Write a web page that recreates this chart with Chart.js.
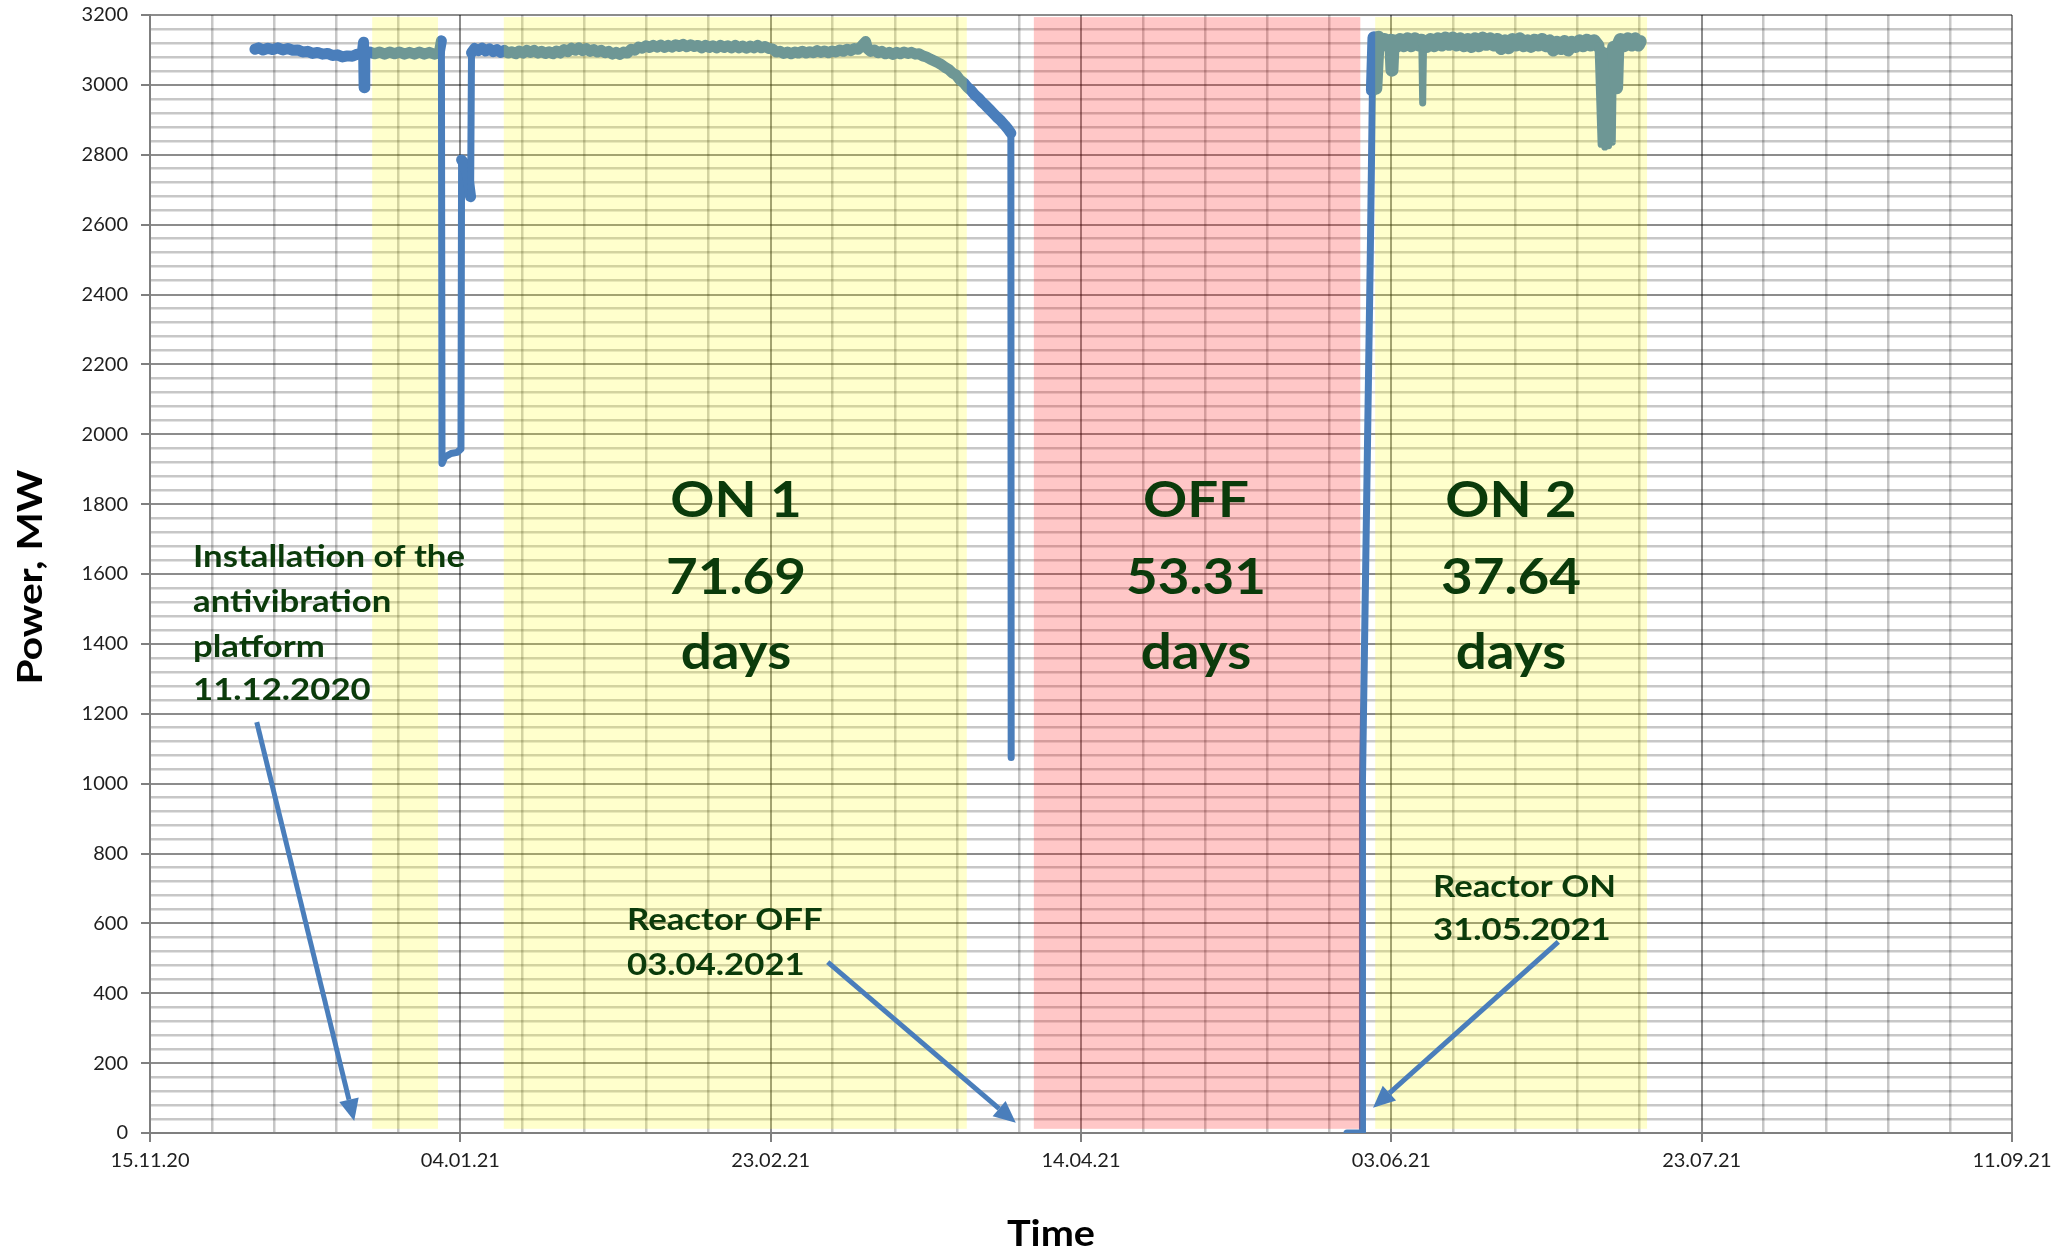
<!DOCTYPE html>
<html>
<head>
<meta charset="utf-8">
<script src="https://cdn.jsdelivr.net/npm/chart.js@4.4.1/dist/chart.umd.min.js"></script>
<style>
  html, body { margin: 0; padding: 0; background: #fff; }
  canvas { display: block; }
</style>
</head>
<body>
<canvas id="chart" width="2067" height="1250"></canvas>
<script>
// x = days since 15.11.2020, one label every 50 days
const dateLabels = ['15.11.20', '04.01.21', '23.02.21', '14.04.21', '03.06.21', '23.07.21', '11.09.21'];

// reactor power (null = no data)
const days = [
  16.9, 17.5, 18.2, 19.0, 19.8, 20.6, 21.4, 22.2, 23.0, 23.8, 24.6, 25.4, 26.2, 27.0, 27.8, 28.6, 29.4, 30.2, 31.0, 31.8,
  32.6, 33.4, 34.2, 34.4, 34.5, 34.6, 35.4, 36.2, 37.0, 37.8, 38.6, 39.4, 40.2, 41.0, 41.8, 42.6, 43.4, 44.2, 45.0, 45.8,
  46.6, 46.95, 47.05, 47.5, 48.5, 49.5, 50.1, 50.2, 50.5, 51.2, 51.5, 51.65, 51.8,
  52.3, 52.9, 53.5, 54.1, 54.7, 55.3, 55.9, 56.5, 57.1, 57.7, 58.3, 58.9, 59.5, 60.1, 60.7, 61.3, 61.9, 62.5, 63.1, 63.7,
  64.3, 64.9, 65.5, 66.1, 66.7, 67.3, 67.9, 68.5, 69.1, 69.7, 70.3, 70.9, 71.5, 72.1, 72.7, 73.3, 73.9, 74.5, 75.1, 75.7,
  76.3, 76.9, 77.5, 78.1, 78.7, 79.3, 79.9, 80.5, 81.1, 81.7, 82.3, 82.9, 83.5, 84.1, 84.7, 85.3, 85.9, 86.5, 87.1, 87.7,
  88.3, 88.9, 89.5, 90.1, 90.7, 91.3, 91.9, 92.5, 93.1, 93.7, 94.3, 94.9, 95.5, 96.1, 96.7, 97.3, 97.9, 98.5, 99.1, 99.7,
  100.3, 100.9, 101.5, 102.1, 102.7, 103.3, 103.9, 104.5, 105.1, 105.7, 106.3, 106.9, 107.5, 108.1, 108.7, 109.3, 109.9,
  110.5, 111.1, 111.7, 112.3, 112.9, 113.5, 114.1, 114.7, 115.3, 115.6, 116.1, 116.7, 117.3, 117.9, 118.5, 119.1, 119.7,
  120.3, 120.9, 121.5, 122.1, 122.7, 123.3, 123.9, 124.5, 125.1, 125.7, 126.3, 126.9, 127.5, 128.1, 128.7, 129.3, 129.9,
  130.5, 131.1, 131.7, 132.3, 132.9, 133.5, 134.1, 134.7, 135.3, 135.9, 136.5, 137.1, 137.7, 138.3, 138.7, 138.75,
  160,
  192.85, 195.3, 195.35, 195.6, 196.6, 196.95, 197.2, 197.5, 197.9, 198.4, 198.9, 199.4, 199.9, 200.1, 200.3, 200.8, 201.4, 202.0,
  202.6, 203.2, 203.8, 204.4, 204.9, 205.05, 205.2, 205.7, 206.3, 206.9, 207.5, 208.1, 208.7, 209.3, 209.9, 210.5, 211.1,
  211.7, 212.3, 212.9, 213.5, 214.1, 214.7, 215.3, 215.9, 216.5, 217.1, 217.7, 218.3, 218.9, 219.5, 220.1, 220.7, 221.3,
  221.9, 222.5, 223.1, 223.7, 224.3, 224.9, 225.5, 226.1, 226.7, 227.3, 227.9, 228.5, 229.1, 229.7, 230.3, 230.9, 231.5,
  232.1, 232.7, 233.3, 233.8, 234.1, 234.4, 234.7, 235.0, 235.3, 235.6, 235.8, 236.3, 236.5, 236.9, 237.5, 238.1, 238.7,
  239.3, 239.8, 240.1
];
const powerMW = [
  3102, 3106, 3100, 3105, 3101, 3106, 3100, 3104, 3099, 3100, 3094, 3096, 3090, 3093, 3088, 3090, 3084, 3086, 3080, 3083,
  3082, 3088, 3090, 3122, 2992, 3090, 3094, 3089, 3094, 3088, 3094, 3089, 3094, 3088, 3093, 3088, 3094, 3088, 3093, 3088,
  3092, 3126, 1916, 1935, 1945, 1948, 1958, 2785, 2778, 2740, 2700, 2680, 3092,
  3104, 3098, 3105, 3097, 3103, 3095, 3101, 3093, 3099, 3091, 3095, 3089, 3097, 3091, 3099, 3093, 3099, 3091, 3096, 3090,
  3095, 3089, 3097, 3091, 3101, 3095, 3105, 3099, 3106, 3098, 3104, 3096, 3101, 3094, 3099, 3092, 3096, 3088, 3093, 3087,
  3094, 3091, 3102, 3099, 3108, 3105, 3112, 3107, 3113, 3108, 3114, 3107, 3113, 3108, 3115, 3110, 3116, 3109, 3115, 3110,
  3113, 3106, 3113, 3107, 3112, 3106, 3113, 3107, 3112, 3106, 3113, 3106, 3111, 3105, 3111, 3106, 3113, 3106, 3110, 3104,
  3103, 3094, 3096, 3090, 3094, 3089, 3094, 3091, 3096, 3091, 3095, 3092, 3098, 3093, 3097, 3092, 3097,
  3094, 3100, 3096, 3102, 3098, 3104, 3102, 3112, 3124, 3104, 3096, 3100, 3092, 3096, 3089, 3093, 3087,
  3093, 3089, 3094, 3090, 3093, 3088, 3089, 3083, 3080, 3074, 3069, 3064, 3058, 3050, 3044, 3034, 3028,
  3014, 3006, 2993, 2984, 2971, 2962, 2950, 2940, 2929, 2918, 2907, 2897, 2885, 2872, 2862, 1075,
  null,
  0, 0, 1010, 1300, 2500, 2985, 3135, 2990, 3136, 3114, 3130, 3112, 3128, 3042, 3126, 3110, 3130, 3112,
  3132, 3112, 3132, 3114, 3128, 2948, 3124, 3110, 3130, 3112, 3132, 3114, 3134, 3116, 3134, 3114, 3132,
  3112, 3130, 3110, 3132, 3112, 3134, 3116, 3132, 3114, 3130, 3104, 3126, 3106, 3130, 3114, 3132, 3112,
  3126, 3110, 3128, 3114, 3130, 3112, 3126, 3100, 3122, 3104, 3124, 3100, 3122, 3110, 3126, 3112, 3128,
  3114, 3126, 3112, 2830, 3100, 2822, 3096, 2826, 3100, 2836, 3108, 2992, 3114, 3130, 3112, 3132, 3114,
  3132, 3114, 3124
];

// shaded periods (days): yellow = reactor on, red = reactor off
const bandStart = [35.8, 57.0, 142.4, 197.4];
const bandEnd = [46.4, 131.6, 195.0, 241.2];
const bandKind = ['on', 'on', 'off', 'on'];
const bandLowMW = 12;
const bandHighMW = 3194;

// annotation arrows (days, MW)
const arrowFromDay = [17.2, 109.2, 226.9];
const arrowFromMW = [1176, 489, 547];
const arrowToDay = [32.9, 139.5, 197.05];
const arrowToMW = [34, 29, 72];

const BLUE = '#4a7ebb';
const GREEN = '#0b3b0b';

function fitText(ctx, text, x, y, scale) {
  ctx.save();
  ctx.translate(x, y);
  ctx.scale(scale, 1);
  ctx.fillText(text, 0, 0);
  ctx.restore();
}

function drawBlock(ctx, lines, x, baselines, scale) {
  lines.forEach((t, i) => fitText(ctx, t, x, baselines[i], scale));
}

function arrow(ctx, x1, y1, x2, y2) {
  const ang = Math.atan2(y2 - y1, x2 - x1);
  const headLen = 22, headW = 10;
  const bx = x2 - headLen * Math.cos(ang), by = y2 - headLen * Math.sin(ang);
  ctx.strokeStyle = BLUE;
  ctx.fillStyle = BLUE;
  ctx.lineWidth = 5;
  ctx.beginPath();
  ctx.moveTo(x1, y1);
  ctx.lineTo(bx, by);
  ctx.stroke();
  ctx.beginPath();
  ctx.moveTo(x2, y2);
  ctx.lineTo(bx + headW * Math.sin(ang), by - headW * Math.cos(ang));
  ctx.lineTo(bx - headW * Math.sin(ang), by + headW * Math.cos(ang));
  ctx.closePath();
  ctx.fill();
}

const bandsPlugin = {
  id: 'bands',
  afterDatasetsDraw(chart) {
    const { ctx, scales: { x, y } } = chart;
    ctx.save();
    bandStart.forEach((s, i) => {
      const x0 = x.getPixelForValue(s), x1 = x.getPixelForValue(bandEnd[i]);
      const y0 = y.getPixelForValue(bandHighMW), y1 = y.getPixelForValue(bandLowMW);
      ctx.fillStyle = bandKind[i] === 'on' ? 'rgba(255,255,0,0.2)' : 'rgba(255,0,0,0.22)';
      ctx.fillRect(x0, y0, x1 - x0, y1 - y0);
    });
    ctx.restore();
  }
};

const notesPlugin = {
  id: 'notes',
  afterDraw(chart) {
    const { ctx, scales: { x, y } } = chart;
    ctx.save();

    // arrows
    arrowFromDay.forEach((d, i) => {
      arrow(ctx, x.getPixelForValue(d), y.getPixelForValue(arrowFromMW[i]),
        x.getPixelForValue(arrowToDay[i]), y.getPixelForValue(arrowToMW[i]));
    });

    ctx.fillStyle = GREEN;
    ctx.textBaseline = 'alphabetic';

    // small annotations
    ctx.font = 'bold 31px Lato';
    ctx.textAlign = 'left';
    const sSmall = 272 / ctx.measureText('Installation of the').width;
    drawBlock(ctx, ['Installation of the', 'antivibration', 'platform', '11.12.2020'], 193, [567, 612, 657, 700], sSmall);
    drawBlock(ctx, ['Reactor OFF', '03.04.2021'], 627, [930, 975], sSmall);
    drawBlock(ctx, ['Reactor ON', '31.05.2021'], 1433, [897, 940], sSmall);

    // big period labels
    ctx.font = 'bold 50px Lato';
    ctx.textAlign = 'center';
    const sBig = 140 / ctx.measureText('71.69').width;
    drawBlock(ctx, ['ON 1', '71.69', 'days'], 736, [517, 594, 669], sBig);
    drawBlock(ctx, ['OFF', '53.31', 'days'], 1196, [517, 594, 669], sBig);
    drawBlock(ctx, ['ON 2', '37.64', 'days'], 1511, [517, 594, 669], sBig);

    // axis titles
    ctx.fillStyle = '#000';
    ctx.font = 'bold 36px Lato';
    ctx.textAlign = 'center';
    fitText(ctx, 'Time', 1051, 1246, 88 / ctx.measureText('Time').width);
    ctx.font = 'bold 34px Lato';
    const sTitle = 215 / ctx.measureText('Power, MW').width;
    ctx.translate(42, 577);
    ctx.rotate(-Math.PI / 2);
    fitText(ctx, 'Power, MW', 0, 0, sTitle);

    ctx.restore();
  }
};

const isMajorX = v => v % 50 === 0;
const isMajorY = v => v % 200 === 0;

// steep jumps and low-power stretches are drawn thin, the noisy plateaus thick
function segWidth(c) {
  const y0 = c.p0.parsed.y, y1 = c.p1.parsed.y;
  if (Math.abs(y1 - y0) > 150 || Math.min(y0, y1) < 2500) return 7;
  return c.p0.parsed.x > 190 ? 13 : 11;
}

new Chart(document.getElementById('chart').getContext('2d'), {
  type: 'line',
  data: {
    datasets: [{
      data: days.map((d, i) => ({ x: d, y: powerMW[i] })),
      borderColor: BLUE,
      borderWidth: 7,
      borderCapStyle: 'round',
      borderJoinStyle: 'round',
      pointRadius: 0,
      tension: 0,
      spanGaps: false,
      segment: { borderWidth: segWidth }
    }]
  },
  options: {
    responsive: false,
    animation: false,
    devicePixelRatio: 1,
    layout: { padding: { top: 15, right: 55, bottom: 0, left: 0 } },
    plugins: {
      legend: { display: false },
      tooltip: { enabled: false }
    },
    scales: {
      x: {
        type: 'linear',
        min: 0,
        max: 300,
        afterFit: s => { s.height = 117; s.paddingLeft = 0; s.paddingRight = 0; },
        border: { color: '#7f7f7f', width: 2 },
        grid: {
          color: c => isMajorX(c.tick.value) ? 'rgba(0,0,0,0.45)' : 'rgba(0,0,0,0.22)',
          lineWidth: c => isMajorX(c.tick.value) ? 2 : 2.5,
          tickColor: c => isMajorX(c.tick.value) ? '#7f7f7f' : 'rgba(0,0,0,0)',
          tickLength: 9,
          tickWidth: 2
        },
        ticks: {
          stepSize: 10,
          autoSkip: false,
          maxRotation: 0,
          padding: 7,
          color: '#1e1e1e',
          font: { family: 'Lato', size: 20 },
          callback: v => isMajorX(v) ? dateLabels[v / 50] : ''
        }
      },
      y: {
        min: 0,
        max: 3200,
        afterFit: s => { s.width = 150; s.paddingTop = 0; s.paddingBottom = 0; },
        border: { color: '#7f7f7f', width: 2 },
        grid: {
          color: c => isMajorY(c.tick.value) ? 'rgba(0,0,0,0.45)' : 'rgba(0,0,0,0.22)',
          lineWidth: c => isMajorY(c.tick.value) ? 2 : 2.5,
          tickColor: c => isMajorY(c.tick.value) ? '#7f7f7f' : 'rgba(0,0,0,0)',
          tickLength: 9,
          tickWidth: 2
        },
        ticks: {
          stepSize: 40,
          autoSkip: false,
          padding: 13,
          color: '#1e1e1e',
          font: { family: 'Lato', size: 20 },
          callback: v => isMajorY(v) ? String(v) : ''
        }
      }
    }
  },
  plugins: [bandsPlugin, notesPlugin]
});
</script>
</body>
</html>
